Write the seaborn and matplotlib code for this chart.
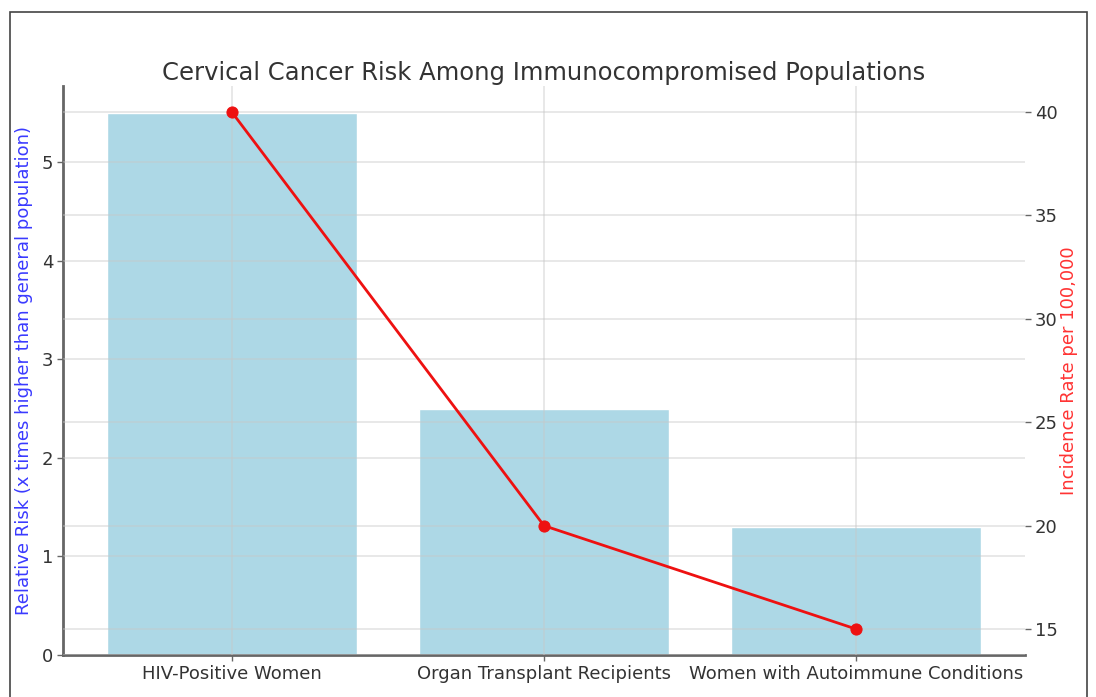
import matplotlib
matplotlib.use("Agg")
import matplotlib.pyplot as plt
import seaborn as sns
import pandas as pd
from matplotlib.patches import Rectangle

# Populations and their measures
populations = ["HIV-Positive Women", "Organ Transplant Recipients", "Women with Autoimmune Conditions"]
relative_risk = [5.5, 2.5, 1.3]
incidence_rate = [40, 20, 15]

df = pd.DataFrame({"Population": populations,
                   "Relative Risk": relative_risk,
                   "Incidence": incidence_rate})

sns.set_style("whitegrid", {
    "axes.edgecolor": "#666666",
    "xtick.bottom": True,
    "ytick.left": True,
})
plt.rcParams["font.family"] = ["DejaVu Sans"]

grid_kw = dict(color="#c8c8c8", alpha=0.45, linewidth=1.3)

fig = plt.figure(figsize=(10.96, 6.97), dpi=100)
ax = fig.add_axes([63 / 1096, 1 - 655 / 697, (1025 - 63) / 1096, (655 - 86) / 697])

sns.barplot(data=df, x="Population", y="Relative Risk", color="lightblue",
            saturation=1, width=0.8, ax=ax)
ax.set_xlim(-0.54, 2.54)
ax.set_ylim(0, 5.775)
ax.set_xlabel("")
ax.set_ylabel("Relative Risk (x times higher than general population)", color="#3a3aff",
              fontsize=13, labelpad=6)
ax.tick_params(axis="both", colors="#666666", labelcolor="#333333", labelsize=13,
               length=4, width=1.0, pad=3)
for side in ["top", "right"]:
    ax.spines[side].set_visible(False)
for side in ["left", "bottom"]:
    ax.spines[side].set_linewidth(2.0)
    ax.spines[side].set_color("#666666")
ax.set_axisbelow(False)
ax.grid(True, axis="both", **grid_kw)

ax2 = ax.twinx()
sns.lineplot(x=range(len(populations)), y=incidence_rate, color="#ee1111", marker="o",
             markersize=8, linewidth=2.0, markeredgecolor="#ee1111", ax=ax2)
ax2.set_ylim(13.75, 41.25)
ax2.set_yticks([15, 20, 25, 30, 35, 40])
ax2.set_ylabel("Incidence Rate per 100,000", color="#ff3333", fontsize=13, labelpad=2)
ax2.tick_params(axis="y", colors="#666666", labelcolor="#333333", labelsize=13,
                length=4, width=1.0, right=True, pad=3)
for side in ["top", "right", "left", "bottom"]:
    ax2.spines[side].set_visible(False)
ax2.grid(True, axis="y", **grid_kw)

ax.set_title("Cervical Cancer Risk Among Immunocompromised Populations",
             fontsize=17.5, color="#333333", pad=4)

# Frame around the figure
fig.patches.append(Rectangle((10 / 1096, -0.05), (1087 - 10) / 1096, 1.05 - 12 / 697,
                             transform=fig.transFigure, fill=False,
                             edgecolor="#444444", linewidth=1.2))

fig.savefig("out.png", dpi=100)
